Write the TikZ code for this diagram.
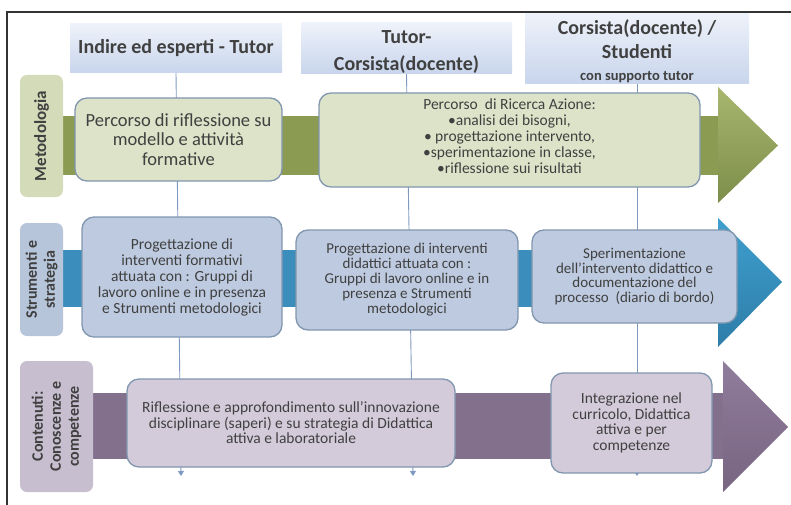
\documentclass[tikz,border=0pt]{standalone}
\usepackage{fontspec}
\setmainfont{Carlito}
\usetikzlibrary{arrows.meta}
\definecolor{hdrtop}{HTML}{EEF2FA}
\definecolor{hdrbot}{HTML}{C8D5EC}
\definecolor{txt}{HTML}{404040}
\definecolor{bord}{HTML}{8196AF}
\definecolor{vline}{HTML}{7F9AC0}
\definecolor{glab}{HTML}{D4DBB8}
\definecolor{gbox}{HTML}{DDE3C8}
\definecolor{gbar}{HTML}{8B9B52}
\definecolor{gheadt}{HTML}{A8B66E}
\definecolor{gheadb}{HTML}{7D8E4A}
\definecolor{blab}{HTML}{B7C5DA}
\definecolor{bbox}{HTML}{BDCADF}
\definecolor{bbar}{HTML}{3B8EBB}
\definecolor{bheadt}{HTML}{3E9FCE}
\definecolor{bheadb}{HTML}{2E7DA8}
\definecolor{plab}{HTML}{C7BED0}
\definecolor{pbox}{HTML}{D3CBDA}
\definecolor{pbar}{HTML}{83708D}
\definecolor{pheadt}{HTML}{907C9B}
\definecolor{pheadb}{HTML}{786582}
\tikzset{
  hdr/.style={draw=none, top color=hdrtop, bottom color=hdrbot, align=center,
    inner sep=0pt, text=txt, font=\bfseries\fontsize{20}{24}\selectfont},
  content/.style={rounded corners=12pt, draw=bord, line width=1.3pt, align=center,
    inner sep=1pt, text=txt, font=\fontsize{15.5}{16}\selectfont},
  rowlab/.style={rounded corners=7pt, draw=none, rotate=90, align=center,
    inner sep=0pt, text=txt, font=\bfseries\fontsize{16}{20}\selectfont},
  vconn/.style={draw=vline, line width=0.9pt, -{Triangle[width=6pt,length=5pt]}},
  frameline/.style={draw=black!80, line width=1.1pt}
}
\begin{document}
\begin{tikzpicture}[x=1pt,y=-1pt]
\useasboundingbox (0,0) rectangle (791,505);
% frame
\draw[frameline] (791,12) -- (7,12) -- (7,505);
% headers
\node[hdr, minimum width=212pt, minimum height=49pt] (h1) at (176,48.5) {Indire ed esperti - Tutor};
\node[hdr, minimum width=211pt, minimum height=49pt] (h2) at (406.5,48.5) {\raisebox{-4pt}[\height][\depth]{\begin{tabular}{@{}c@{}}Tutor-\\[3pt]Corsista(docente)\end{tabular}}};
\node[hdr, minimum width=224pt, minimum height=65pt] (h3) at (637,48.5) {\raisebox{-4pt}[\height][\depth]{\begin{tabular}{@{}c@{}}Corsista(docente) /\\[0pt]Studenti\\[-2pt]{\fontsize{14.5}{15}\selectfont con supporto tutor}\end{tabular}}};
% vertical connectors
\coordinate (e1) at (181,476);
\coordinate (e2) at (413,476);
\coordinate (e3) at (637,476);
\draw[vconn] (h1.south) -- (e1);
\draw[vconn] (h2.south) -- (e2);
\draw[vconn] (h3.south) -- (e3);
% bars and arrow heads
\fill[gbar] (63,116) rectangle (719,175);
\shade[top color=gheadt, bottom color=gheadb] (718,87) -- (778,145.5) -- (718,203) -- cycle;
\fill[bbar] (63,250) rectangle (719,307);
\shade[top color=bheadt, bottom color=bheadb] (718,218) -- (782,282) -- (718,347) -- cycle;
\fill[pbar] (93,393) rectangle (724,459);
\shade[top color=pheadt, bottom color=pheadb] (723,361) -- (788,427) -- (723,492) -- cycle;
% row labels
\node[rowlab, fill=glab, minimum width=122pt, minimum height=43pt, font=\bfseries\fontsize{17}{20}\selectfont] (l1) at (41.5,136) {Metodologia};
\node[rowlab, fill=blab, minimum width=113pt, minimum height=43pt] (l2) at (41.5,279.5) {Strumenti e\\[-2pt]strategia};
\node[rowlab, fill=plab, minimum width=131pt, minimum height=73pt] (l3) at (56.5,426.5) {Contenuti:\\[-2pt]Conoscenze e\\[-2pt]competenze};
% row 1
\node[content, fill=gbox, minimum width=207pt, minimum height=83pt, font=\fontsize{18.5}{19.5}\selectfont] (m1) at (178.5,139.5) {Percorso di riflessione su\\modello e attività\\formative};
\node[content, fill=gbox, minimum width=381pt, minimum height=94pt, font=\fontsize{15.5}{16}\selectfont] (m2) at (509.5,140) {Percorso~ di Ricerca Azione:\\•analisi dei bisogni,\\• progettazione intervento,\\•sperimentazione in classe,\\•riflessione sui risultati\\[-8pt]\mbox{}};
% row 2
\node[content, fill=bbox, minimum width=200pt, minimum height=120pt] (s1) at (182,277) {Progettazione di\\interventi formativi\\attuata con : Gruppi di\\lavoro online e in presenza\\e Strumenti metodologici};
\node[content, fill=bbox, minimum width=222pt, minimum height=100pt, font=\fontsize{15}{15}\selectfont] (s2) at (407,280) {Progettazione di interventi\\didattici attuata con :\\Gruppi di lavoro online e in\\presenza e Strumenti\\metodologici};
\node[content, fill=bbox, minimum width=205pt, minimum height=93pt, font=\fontsize{15}{14.5}\selectfont] (s3) at (634.5,276.5) {Sperimentazione\\dell’intervento didattico e\\documentazione del\\processo~ (diario di bordo)};
% row 3
\node[content, fill=pbox, minimum width=328pt, minimum height=88pt, font=\fontsize{15.5}{15.5}\selectfont] (c1) at (291,423) {Riflessione e approfondimento sull’innovazione\\disciplinare (saperi) e su strategia di Didattica\\attiva e laboratoriale};
\node[content, fill=pbox, minimum width=161pt, minimum height=100pt, font=\fontsize{15.5}{15.5}\selectfont] (c2) at (631.5,423) {Integrazione nel\\curricolo, Didattica\\attiva e per\\competenze};
\end{tikzpicture}
\end{document}
